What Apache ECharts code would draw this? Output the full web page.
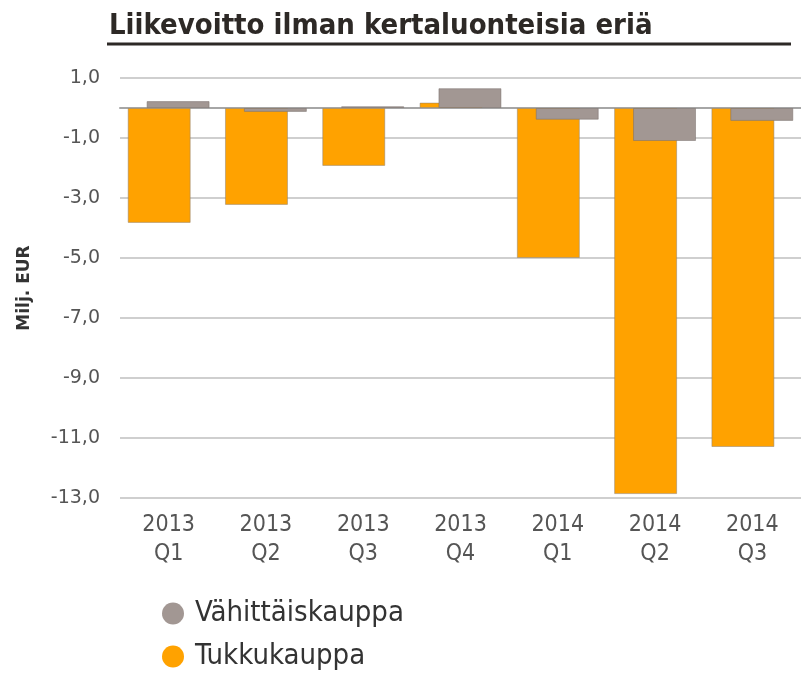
<!DOCTYPE html>
<html>
<head>
<meta charset="utf-8">
<script src="https://cdn.jsdelivr.net/npm/echarts@6/dist/echarts.min.js"></script>
<style>
  html, body { margin: 0; padding: 0; background: #fff; }
  #main { width: 801px; height: 675px; }
</style>
</head>
<body>
<div id="main"></div>
<script>
// neljännekset
var quarters = ['2013\nQ1', '2013\nQ2', '2013\nQ3', '2013\nQ4', '2014\nQ1', '2014\nQ2', '2014\nQ3'];
// Milj. EUR
var tukkukauppa = [-3.83, -3.23, -1.93, 0.18, -5.0, -12.87, -11.3];
var vahittaiskauppa = [0.23, -0.13, 0.06, 0.66, -0.39, -1.1, -0.43];

var narrow = '"Liberation Sans Narrow", "DejaVu Sans Condensed", sans-serif';

// legendan tyyli, kaksi erillistä riviä
function legendItem(name, top) {
  return {
    orient: 'vertical',
    left: 157,
    top: top,
    icon: 'circle',
    itemWidth: 22,
    itemHeight: 22,
    itemStyle: { borderWidth: 0 },
    data: [name],
    textStyle: { fontFamily: narrow, fontSize: 29, color: '#333', padding: [0, 0, 0, 6] }
  };
}

var myChart = echarts.init(document.getElementById('main'));
myChart.setOption({
  animation: false,
  title: {
    text: 'Liikevoitto ilman kertaluonteisia eriä',
    left: 104,
    top: 7,
    textStyle: { fontFamily: narrow, fontWeight: 'bold', fontSize: 29, color: '#2d2926' }
  },
  graphic: [
    {
      type: 'line',
      shape: { x1: 107, y1: 44, x2: 791, y2: 44 },
      style: { stroke: '#2d2926', lineWidth: 3 }
    }
  ],
  legend: [legendItem('Vähittäiskauppa', 594), legendItem('Tukkukauppa', 637)],
  grid: { left: 120, top: 78, width: 686, height: 420 },
  xAxis: [
    {
      type: 'category',
      data: quarters,
      axisLine: { onZero: true, lineStyle: { color: '#a6a6a6', width: 2 } },
      axisTick: { length: 5, lineStyle: { color: '#a6a6a6', width: 2 } },
      axisLabel: { show: false }
    },
    {
      type: 'category',
      data: quarters,
      position: 'bottom',
      axisLine: { show: false, onZero: false },
      axisTick: { show: false },
      axisLabel: { margin: 13, fontFamily: narrow, fontSize: 23, lineHeight: 29, color: '#555' }
    }
  ],
  yAxis: {
    type: 'value',
    min: -13,
    max: 1,
    interval: 2,
    name: 'Milj. EUR',
    nameLocation: 'middle',
    nameGap: 87,
    nameTextStyle: { fontFamily: 'DejaVu Sans', fontWeight: 'bold', fontSize: 17, color: '#333' },
    axisLine: { show: false },
    axisTick: { show: false },
    axisLabel: {
      margin: 20,
      fontFamily: 'DejaVu Sans',
      fontSize: 19,
      color: '#555',
      formatter: function (v) { return v.toFixed(1).replace('.', ','); }
    },
    splitLine: { lineStyle: { color: '#cfcfcf', width: 2 } }
  },
  series: [
    {
      name: 'Tukkukauppa',
      type: 'bar',
      xAxisIndex: 0,
      data: tukkukauppa,
      barWidth: 63,
      barGap: '-70%',
      itemStyle: { color: '#ffa200', borderColor: 'rgba(140,130,120,0.5)', borderWidth: 1 }
    },
    {
      name: 'Vähittäiskauppa',
      type: 'bar',
      xAxisIndex: 0,
      data: vahittaiskauppa,
      barWidth: 63,
      itemStyle: { color: '#a29793', borderColor: 'rgba(120,110,105,0.5)', borderWidth: 1 }
    }
  ]
});
</script>
</body>
</html>
